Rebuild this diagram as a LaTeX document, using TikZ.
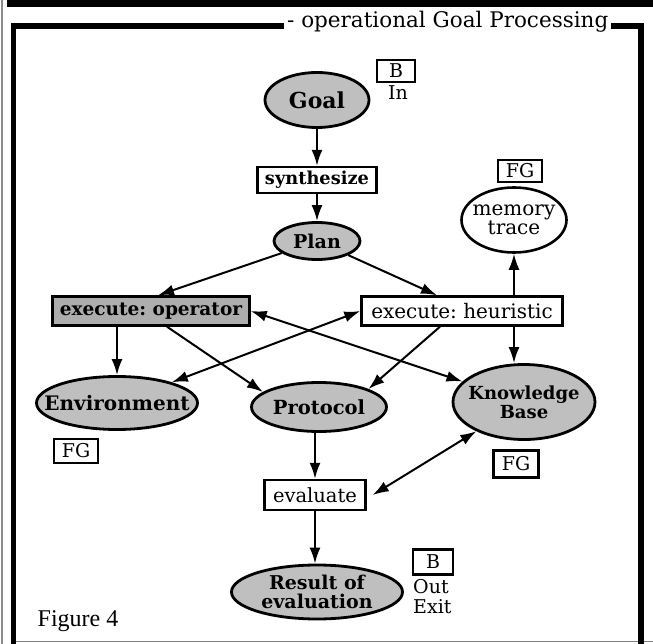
\documentclass[tikz,border=0pt]{standalone}
\usepackage{fontspec}
\setmainfont{DejaVu Serif}
\newfontfamily\figfont{Liberation Serif}
\usetikzlibrary{arrows.meta,shapes.geometric}

\begin{document}
\begin{tikzpicture}[x=1pt,y=-1pt,
  txt/.style={font=\fontsize{19}{19}\selectfont,align=center,inner sep=0pt},
  btxt/.style={font=\fontsize{19}{19}\selectfont\bfseries,align=center,inner sep=0pt},
  shaded/.style={ellipse,draw,line width=2.8pt,fill=black!25,inner sep=0pt},
  open/.style={ellipse,draw,line width=2.6pt,fill=white,inner sep=0pt},
  proc/.style={rectangle,draw,line width=2.4pt,fill=white,inner sep=0pt},
  procshaded/.style={proc,fill=black!32},
  tag/.style={rectangle,draw,line width=2.2pt,fill=white,inner sep=0pt,font=\fontsize{19}{19}\selectfont},
  note/.style={inner sep=0pt,font=\fontsize{19}{19}\selectfont},
  conn/.style={line width=2pt,-{Latex[length=16pt,width=11pt]}},
  dconn/.style={line width=2pt,{Latex[length=16pt,width=11pt]}-{Latex[length=16pt,width=11pt]}},
  frame/.style={line width=5.5pt},
]
\useasboundingbox (0,0) rectangle (653,644);

% surrounding rules and panel frame
\draw[line width=1.5pt,black!45] (2,0) -- (2,644);
\draw[line width=7pt] (7,3.5) -- (653,3.5);
\draw[line width=1.2pt,black!50] (13,641.5) -- (653,641.5);
\draw[frame] (13.5,644) -- (13.5,26) -- (641,26) -- (641,644);
\node[anchor=base west,fill=white,inner xsep=3pt,inner ysep=2pt,
      font=\fontsize{21.5}{21.5}\selectfont] (title) at (284,28) {- operational Goal Processing};

% nodes
\node[shaded,minimum width=104pt,minimum height=55pt,label={[btxt,font=\fontsize{22}{22}\selectfont\bfseries]center:Goal}] (goal) at (317,100) {};
\node[tag,minimum width=38pt,minimum height=22pt] (btag) at (396,71) {B};
\node[note] (inlbl) at (398,93) {In};

\node[proc,minimum width=119pt,minimum height=26pt,label={[btxt,font=\fontsize{17.8}{19}\selectfont\bfseries]center:synthesize}] (synth) at (317,180) {};
\node[shaded,minimum width=86pt,minimum height=37pt,label={[btxt]center:Plan}] (plan) at (317,241) {};

\node[tag,minimum width=44pt,minimum height=22pt] (mtag) at (520,171) {FG};
\node[open,minimum width=105pt,minimum height=65pt,label={[txt,font=\fontsize{20}{19}\selectfont]center:memory\\trace}] (mem) at (514,220) {};

\node[procshaded,minimum width=197pt,minimum height=29pt,label={[btxt,font=\fontsize{18.5}{19}\selectfont\bfseries]center:execute:\ operator}] (oper) at (151,311) {};
\node[proc,minimum width=201pt,minimum height=29pt,label={[txt,font=\fontsize{20}{20}\selectfont]center:execute:\ heuristic}] (heur) at (462,311) {};

\node[shaded,minimum width=161pt,minimum height=53pt,label={[btxt,font=\fontsize{20}{20}\selectfont\bfseries]center:Environment}] (env) at (117,403) {};
\node[tag,minimum width=44pt,minimum height=24pt] (etag) at (76,451) {FG};

\node[shaded,minimum width=135pt,minimum height=49pt,label={[btxt,font=\fontsize{19.5}{19}\selectfont\bfseries]center:Protocol}] (prot) at (319,407) {};

\node[shaded,minimum width=142pt,minimum height=75pt,label={[btxt,font=\fontsize{18}{19}\selectfont\bfseries]center:Knowledge\\Base}] (kb) at (524,402) {};
\node[tag,minimum width=45pt,minimum height=27pt] (ktag) at (516,464) {FG};

\node[proc,minimum width=101pt,minimum height=30pt,label={[txt,font=\fontsize{19.5}{19}\selectfont]center:evaluate}] (eval) at (315,495) {};

\node[shaded,minimum width=171pt,minimum height=54pt,label={[btxt]center:Result of\\evaluation}] (res) at (317,592) {};
\node[tag,minimum width=40pt,minimum height=25pt] (rtag) at (433,562) {B};
\node[note,anchor=west] (outlbl) at (413,587) {Out};
\node[note,anchor=west] (exitlbl) at (413,607) {Exit};

\node[inner sep=0pt,font=\figfont\fontsize{24}{24}\selectfont] (fig) at (78,621) {Figure 4};

% connectors
\draw[conn] (goal) -- (synth);
\draw[conn] (synth) -- (plan);
\draw[conn] (plan) -- ([xshift=7pt]oper.north);
\draw[conn] (plan) -- ([xshift=-25pt]heur.north);
\draw[conn] (heur.north -| mem.south) -- (mem.south);
\draw[conn] (heur.south -| mem.south) -- (kb.north -| mem.south);
\draw[conn] (env.north |- oper.south) -- (env.north);
\draw[conn] ([xshift=16pt]oper.south) -- (prot.165);
\draw[conn] ([xshift=-22pt]heur.south) -- (prot.20);
\draw[dconn] (heur.west) -- (env);
\draw[dconn] (oper.east) -- (kb);
\draw[dconn] ([xshift=6pt]eval.east) -- (kb);
\draw[conn] (eval.north |- prot.south) -- (eval.north);
\draw[conn] (eval.south) -- (eval.south |- res.north);
\end{tikzpicture}
\end{document}
